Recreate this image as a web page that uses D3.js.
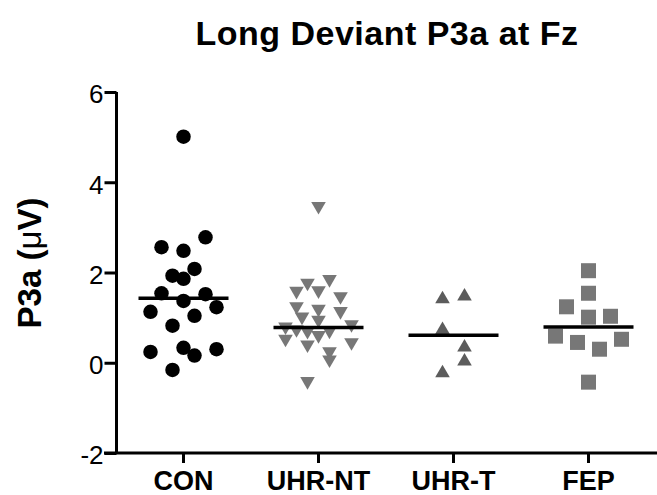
<!DOCTYPE html>
<html>
<head>
<meta charset="utf-8">
<script src="https://cdn.jsdelivr.net/npm/d3@7"></script>
<style>
  html, body { margin: 0; padding: 0; background: #fff; }
  svg { display: block; }
  text { font-family: "Liberation Sans", Arial, Helvetica, sans-serif; }
</style>
</head>
<body>
<svg id="chart" width="657" height="495"></svg>
<script>
// ---- data ----
const categories = ["CON", "UHR-NT", "UHR-T", "FEP"];

const conValues   = [5.01, 2.78, 2.56, 2.48, 2.08, 1.93, 1.86, 1.54, 1.52, 1.37, 1.23, 1.13, 1.04, 0.82, 0.33, 0.30, 0.24, 0.16, -0.16];
const conColumns  = [0, 2, -2, 0, 1, -1, 0, -2, 2, 0, 3, -3, 1, -1, 0, 3, -3, 1, -1];

const uhrntValues  = [3.47, 1.85, 1.77, 1.60, 1.59, 1.47, 1.25, 1.19, 1.14, 1.02, 0.95, 0.85, 0.80, 0.74, 0.70, 0.71, 0.61, 0.53, 0.45, 0.40, 0.25, 0.07, -0.41];
const uhrntColumns = [0, 1, -1, 0, -2, 2, -2, 0, 2, -1.5, 0, 3, -3, -2, -1, 1, 0, -3, 3, -1, 1, 1, -1];

const uhrtValues  = [1.41, 1.47, 0.73, 0.34, 0.03, -0.23];
const uhrtColumns = [-1, 1, -1, 1, 1, -1];

const fepValues   = [2.04, 1.54, 1.24, 1.01, 1.03, 0.59, 0.45, 0.30, 0.52, -0.43];
const fepColumns  = [0, 0, -2, 0, 2, -3, -1, 1, 3, 0];

const centreValues = [1.43, 0.78, 0.61, 0.79];
const yTickValues  = [-2, 0, 2, 4, 6];

const title  = "Long Deviant P3a at Fz";
const yLabel = "P3a (";

// ---- layout ----
const svg = d3.select("#chart");
const x = d3.scaleBand().domain(categories).range([116, 656]);
const y = d3.scaleLinear().domain([-2, 6]).range([453, 92]);
const col = d3.scaleLinear().domain([0, 1]).range([0, 11]);

const groups = [
  { cat: "CON",    values: conValues,   cols: conColumns,   shape: d3.symbolCircle,   size: 165, rot: 0,   fill: "#000000" },
  { cat: "UHR-NT", values: uhrntValues, cols: uhrntColumns, shape: d3.symbolTriangle, size: 92,  rot: 180, fill: "#777777" },
  { cat: "UHR-T",  values: uhrtValues,  cols: uhrtColumns,  shape: d3.symbolTriangle, size: 92,  rot: 0,   fill: "#5c5c5c" },
  { cat: "FEP",    values: fepValues,   cols: fepColumns,   shape: d3.symbolSquare,   size: 225, rot: 0,   fill: "#777777" }
];

// title
svg.append("text")
  .attr("x", 387).attr("y", 45)
  .attr("text-anchor", "middle")
  .style("font-size", "34px").style("font-weight", "bold")
  .style("letter-spacing", "0.5px")
  .text(title);

// y label
const yl = svg.append("text")
  .attr("transform", "translate(41," + 263 + ") rotate(-90)")
  .attr("text-anchor", "middle")
  .style("font-size", "33px").style("font-weight", "bold");
yl.append("tspan").text(yLabel);
yl.append("tspan").style("font-weight", "normal").text("\u03BC");
yl.append("tspan").text("V)");

// points
groups.forEach(g => {
  const cx = x(g.cat) + x.bandwidth() / 2;
  const sym = d3.symbol().type(g.shape).size(g.size);
  svg.append("g").selectAll("path")
    .data(g.values.map((v, i) => ({ v, c: g.cols[i] })))
    .join("path")
    .attr("d", sym)
    .attr("fill", g.fill)
    .attr("transform", d => `translate(${cx + col(d.c)},${y(d.v)}) rotate(${g.rot})`);
});

// centre lines
svg.append("g").selectAll("line")
  .data(categories.map((c, i) => ({ c, v: centreValues[i] })))
  .join("line")
  .attr("x1", d => x(d.c) + x.bandwidth() / 2 - 45)
  .attr("x2", d => x(d.c) + x.bandwidth() / 2 + 45)
  .attr("y1", d => y(d.v)).attr("y2", d => y(d.v))
  .attr("stroke", "#000").attr("stroke-width", 3.5);

// y axis
const yAxis = svg.append("g")
  .attr("transform", "translate(116.5,0)")
  .call(d3.axisLeft(y).tickValues(yTickValues).tickSize(12).tickPadding(1).tickFormat(d => String(d)));
yAxis.select(".domain").attr("stroke-width", 3).attr("d", `M0,${y(6)}V${y(-2)}`);
yAxis.selectAll(".tick line").attr("stroke-width", 3);
yAxis.selectAll(".tick text")
  .style("font-size", "26px").style("font-family", "'Liberation Sans', Arial, sans-serif")
  .attr("fill", "#000").attr("dy", "0.42em");

// x axis
const xAxis = svg.append("g")
  .attr("transform", `translate(0,${y(-2)})`)
  .call(d3.axisBottom(x).tickSize(10).tickPadding(8));
xAxis.select(".domain").attr("stroke-width", 3).attr("d", "M104,0H657");
xAxis.selectAll(".tick line").attr("stroke-width", 3);
xAxis.selectAll(".tick text")
  .style("font-size", "27px").style("font-weight", "bold")
  .style("font-family", "'Liberation Sans', Arial, sans-serif")
  .attr("fill", "#000").attr("dy", "0.71em");
</script>
</body>
</html>
